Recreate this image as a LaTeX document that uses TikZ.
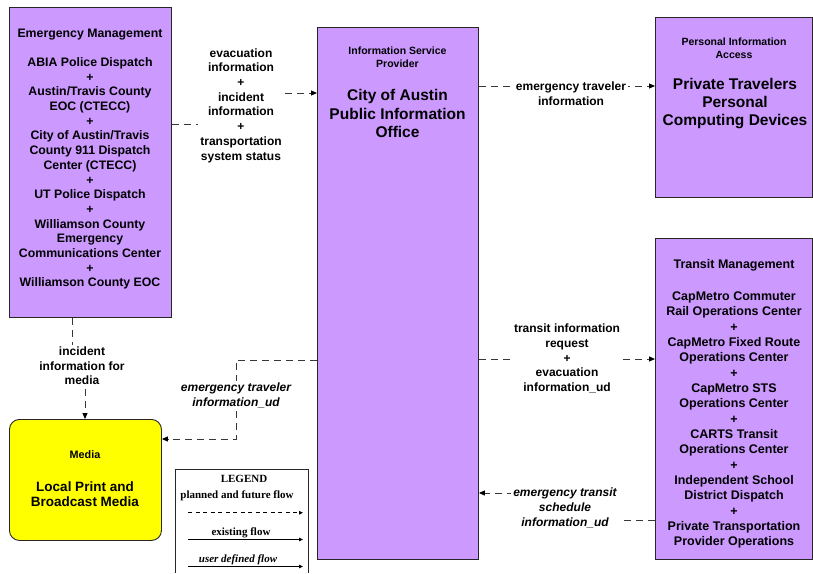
\documentclass[tikz,border=0pt]{standalone}
\usepackage{fontspec}
\setmainfont{Liberation Sans}
\newfontfamily\legendfont{Liberation Serif}
\usetikzlibrary{arrows.meta}
\definecolor{lilac}{HTML}{CC99FF}
\definecolor{ylw}{HTML}{FFFF00}
\definecolor{flowgray}{HTML}{383838}
\tikzset{
 box/.style={draw=black!85, line width=0.9pt, fill=lilac, anchor=north west, inner sep=0pt},
 txt/.style={align=center, inner sep=1pt, font=\bfseries\fontsize{12.3}{14.7}\selectfont},
 smalltxt/.style={align=center, inner sep=1pt, font=\bfseries\fontsize{10.5}{12.6}\selectfont},
 bigtxt/.style={align=center, inner sep=1pt, font=\bfseries\fontsize{15.5}{18.4}\selectfont},
 flow/.style={draw=flowgray, line width=1pt, dash pattern=on 7pt off 5pt, -{Triangle[length=6pt,width=5pt,color=black]}},
 lbl/.style={fill=white, align=center, inner sep=2pt, font=\bfseries\fontsize{12}{14.7}\selectfont},
 ilbl/.style={lbl, font=\bfseries\itshape\fontsize{12}{14.7}\selectfont},
 legtxt/.style={inner sep=0pt, font=\legendfont\bfseries\fontsize{11}{12}\selectfont},
 legarrow/.style={draw=black, line width=1pt, -{Triangle[length=4pt,width=3.5pt]}},
}
\begin{document}
\begin{tikzpicture}[x=1pt,y=-1pt]
\useasboundingbox (0,0) rectangle (813,573);

% boxes
\node[box, minimum width=162pt, minimum height=310pt] (em) at (9,7) {};
\node[box, minimum width=161pt, minimum height=532pt] (isp) at (317,27) {};
\node[box, minimum width=157pt, minimum height=180pt] (pia) at (655,17) {};
\node[box, minimum width=157pt, minimum height=321pt] (tm) at (655,238) {};
\node[box, fill=ylw, rounded corners=10pt, minimum width=152pt, minimum height=121pt] (media) at (9,419) {};

% box texts
\node[txt] (emt) at (90,159) {Emergency Management\\[14.7pt]ABIA Police Dispatch\\+\\Austin/Travis County\\EOC (CTECC)\\+\\City of Austin/Travis\\County 911 Dispatch\\Center (CTECC)\\+\\UT Police Dispatch\\+\\Williamson County\\Emergency\\Communications Center\\+\\Williamson County EOC};

\node[smalltxt] (ispt) at (397.5,57.5) {Information Service\\Provider};
\node[bigtxt] (ispb) at (397.5,113.5) {City of Austin\\Public Information\\Office};

\node[smalltxt] (piat) at (734,48) {Personal Information\\Access};
\node[bigtxt] (piab) at (735,103.5) {Private Travelers\\Personal\\Computing Devices};

\node[txt, font=\bfseries\fontsize{12.5}{15.3}\selectfont] (tmt) at (734,265.5) {Transit Management};
\node[txt, font=\bfseries\fontsize{12.5}{15.33}\selectfont] (tmb) at (734,420) {CapMetro Commuter\\Rail Operations Center\\+\\CapMetro Fixed Route\\Operations Center\\+\\CapMetro STS\\Operations Center\\+\\CARTS Transit\\Operations Center\\+\\Independent School\\District Dispatch\\+\\Private Transportation\\Provider Operations};

\node[smalltxt, font=\bfseries\fontsize{10.8}{13}\selectfont] (mediat) at (85,454.5) {Media};
\node[bigtxt, font=\bfseries\fontsize{13.5}{15.2}\selectfont] (mediab) at (85,494) {Local Print and\\Broadcast Media};

% connectors
\draw[flow] (em.east |- 0,124) -- (241,124) -- (241,93) -- (isp.west |- 0,93);
\node[lbl] (l1) at (241,105.5) {evacuation\\information\\+\\incident\\information\\+\\transportation\\system status};

\draw[flow] (isp.east |- 0,86) -- (pia.west |- 0,86);
\node[lbl] (l2) at (571,93.5) {emergency traveler\\information};

\draw[flow] (em.south -| 72,0) -- (72,366) -- (85,366) -- (media.north -| 85,0);
\node[lbl] (l3) at (82,366) {incident\\information for\\media};

\draw[flow] (isp.west |- 0,360) -- (236,360) -- (236,439) -- (media.east |- 0,439);
\node[ilbl] (l4) at (236,395.5) {emergency traveler\\information\_ud};

\draw[flow] (isp.east |- 0,359) -- (tm.west |- 0,359);
\node[lbl] (l5) at (567,358.5) {transit information\\request\\+\\evacuation\\information\_ud};

\draw[flow] (tm.west |- 0,520) -- (565,520) -- (565,493) -- (isp.east |- 0,493);
\node[ilbl] (l6) at (565,508) {emergency transit\\schedule\\information\_ud};

% legend
\coordinate (lgbl) at (175,573);
\coordinate (lgtl) at (175,469);
\coordinate (lgtr) at (308,469);
\coordinate (lgbr) at (308,573);
\draw[black!85, line width=0.9pt] (lgbl) -- (lgtl) -- (lgtr) -- (lgbr);
\node[legtxt] (lgtitle) at (244,479) {LEGEND};
\node[legtxt] (lgp) at (237,496) {planned and future flow};
\coordinate (a1s) at (188,512.7);
\coordinate (a1e) at (303,512.7);
\draw[legarrow, dash pattern=on 4pt off 3.5pt] (a1s) -- (a1e);
\node[legtxt] (lge) at (241,532.5) {existing flow};
\coordinate (a2s) at (188,539.5);
\coordinate (a2e) at (303,539.5);
\draw[legarrow] (a2s) -- (a2e);
\node[legtxt, font=\legendfont\bfseries\itshape\fontsize{11}{12}\selectfont] (lgu) at (238,559.5) {user defined flow};
\coordinate (a3s) at (188,566.5);
\coordinate (a3e) at (303,566.5);
\draw[legarrow] (a3s) -- (a3e);
\end{tikzpicture}
\end{document}
